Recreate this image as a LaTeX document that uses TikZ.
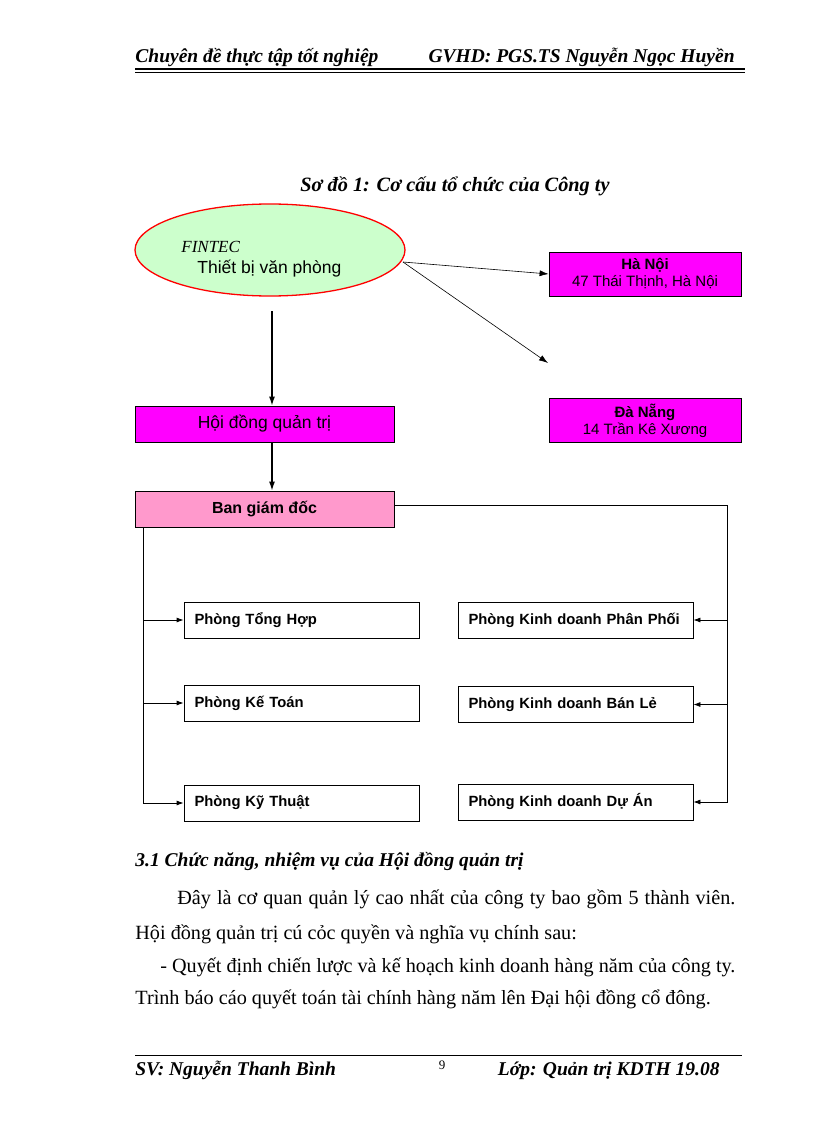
\documentclass[tikz,border=0pt]{standalone}
\usepackage{fontspec}
\setmainfont{Liberation Serif}
\setsansfont{Liberation Sans}
\usetikzlibrary{arrows.meta,shapes.geometric,calc}
\definecolor{boxmagenta}{HTML}{FF00FF}
\definecolor{boxpink}{HTML}{FF99CC}
\definecolor{ovalgreen}{HTML}{CCFFCC}
\newcommand{\bodyfont}{\fontsize{20.2}{23}\selectfont}
\newcommand{\boxfont}{\sffamily\fontsize{15}{17}\selectfont}
\tikzset{
	unit/.style={draw, rectangle, inner sep=0pt, minimum width=259pt, minimum height=36pt},
	branch/.style={draw, rectangle, fill=boxmagenta, inner sep=0pt, minimum width=192pt, minimum height=44pt, align=center, font=\boxfont},
	dept/.style={draw, rectangle, inner xsep=10.5pt, inner ysep=0pt, text width=214pt, minimum height=36pt, align=left, font=\sffamily\bfseries\fontsize{14.8}{16}\selectfont},
	headtext/.style={anchor=base west, inner sep=0pt, font=\fontsize{19.5}{22}\selectfont\bfseries\itshape},
	bodytext/.style={anchor=base west, inner sep=0pt, font=\bodyfont},
	small tip/.style={-{Latex[length=7pt,width=5pt]}}
}
\begin{document}
\begin{tikzpicture}[x=1pt, y=-1pt, >={Latex[length=9pt,width=6pt]}, line width=0.8pt]
		\fill[white] (0,0) rectangle (816,1123);
		\useasboundingbox (0,0) rectangle (816,1123);
		% header and footer
		\node[headtext] (hleft) at (135,63) {Chuyên đề thực tập tốt nghiệp};
		\node[headtext, anchor=base east] (hright) at (735,63) {GVHD: PGS.TS Nguyễn Ngọc Huyền};
		\draw[line width=1.2pt] (135,69) -- (745,69);
		\draw[line width=0.5pt] (135,72) -- (745,72);
		\draw[line width=0.6pt] (135,1055) -- (742,1055);
		\node[headtext] (fleft) at (135,1075) {SV: Nguyễn Thanh Bình};
		\node[headtext, anchor=base east] (fright) at (720,1075) {Lớp: Quản trị KDTH 19.08};
		\node[bodytext, anchor=base, font=\fontsize{13}{15}\selectfont] (pageno) at (442,1069) {9};
		% title
		\node[headtext, anchor=base, font=\fontsize{20.3}{23}\selectfont\bfseries\itshape] (title) at (455,192) {Sơ đồ 1: Cơ cấu tổ chức của Công ty};
		% chart
		\node[ellipse, draw=red, line width=1.3pt, fill=ovalgreen, minimum width=270pt, minimum height=92pt, inner sep=0pt] (fintec) at (270,250) {};
		\node[anchor=base west, inner sep=0pt, font=\fontsize{17}{19}\selectfont\itshape] (fintecname) at (181,252) {FINTEC};
		\node[anchor=base west, inner sep=0pt, font=\sffamily\fontsize{17.5}{19}\selectfont] (fintecsub) at (197,273) {Thiết bị văn phòng};
		\node[branch] (hanoi) at (645,274) {\textbf{Hà Nội}\\47 Thái Thịnh, Hà Nội};
		\node[branch] (danang) at (645,420.5) {\textbf{Đà Nẵng}\\14 Trần Kê Xương};
		\node[unit, fill=boxmagenta, font=\sffamily\fontsize{17.5}{19}\selectfont] (hdqt) at (264.5,424) {Hội đồng quản trị};
		\node[unit, fill=boxpink, font=\sffamily\bfseries\fontsize{16}{18}\selectfont] (bgd) at (264.5,509) {\raisebox{3pt}{Ban giám đốc}};
		\node[dept] (tonghop) at (301.5,620) {\raisebox{2pt}{Phòng Tổng Hợp}};
		\node[dept] (ketoan) at (301.5,703) {\raisebox{2pt}{Phòng Kế Toán}};
		\node[dept] (kythuat) at (301.5,803) {\raisebox{2pt}{Phòng Kỹ Thuật}};
		\node[dept] (phanphoi) at (575.5,620) {\raisebox{2pt}{Phòng Kinh doanh Phân Phối}};
		\node[dept] (banle) at (575.5,704.5) {\raisebox{2pt}{Phòng Kinh doanh Bán Lẻ}};
		\node[dept] (duan) at (575.5,802) {\raisebox{2pt}{Phòng Kinh doanh Dự Án}};
		\coordinate (fstart) at (403,262);
		\coordinate (fdown) at (272,311);
		\coordinate (dnend) at (548,363);
		\coordinate (lbus) at (143,527);
		\coordinate (rbus) at (727,505);
		\draw[->, line width=0.6pt] (fstart) -- (hanoi.west);
		\draw[->, line width=0.6pt] (fstart) -- (dnend);
		\draw[->, line width=1.3pt] (fdown) -- (hdqt.north -| fdown);
		\draw[->, line width=1.3pt] (hdqt.south -| fdown) -- (bgd.north -| fdown);
		\draw[small tip] (lbus) |- (kythuat.west);
		\foreach \d in {tonghop,ketoan}
		{
			\draw[small tip] (\d.west -| lbus) -- (\d.west);
		}
		\draw[small tip] (bgd.east |- rbus) -| (rbus |- duan.east) -- (duan.east);
		\foreach \d in {phanphoi,banle}
		{
			\draw[small tip] (\d.east -| rbus) -- (\d.east);
		}
		% text below the chart
		\node[headtext] (sect) at (135,866) {3.1 Chức năng, nhiệm vụ của Hội đồng quản trị};
		\node[bodytext] (line1) at (177,904) {\makebox[558pt][s]{Đây là cơ quan quản lý cao nhất của công ty bao gồm 5 thành viên.}};
		\node[bodytext] (line2) at (135,939) {Hội đồng quản trị cú cỏc quyền và nghĩa vụ chính sau:};
		\node[bodytext] (line3) at (160,972) {\makebox[575pt][s]{- Quyết định chiến lược và kế hoạch kinh doanh hàng năm của công ty.}};
		\node[bodytext] (line4) at (135,1004) {Trình báo cáo quyết toán tài chính hàng năm lên Đại hội đồng cổ đông.};
		\end{tikzpicture}
\end{document}
